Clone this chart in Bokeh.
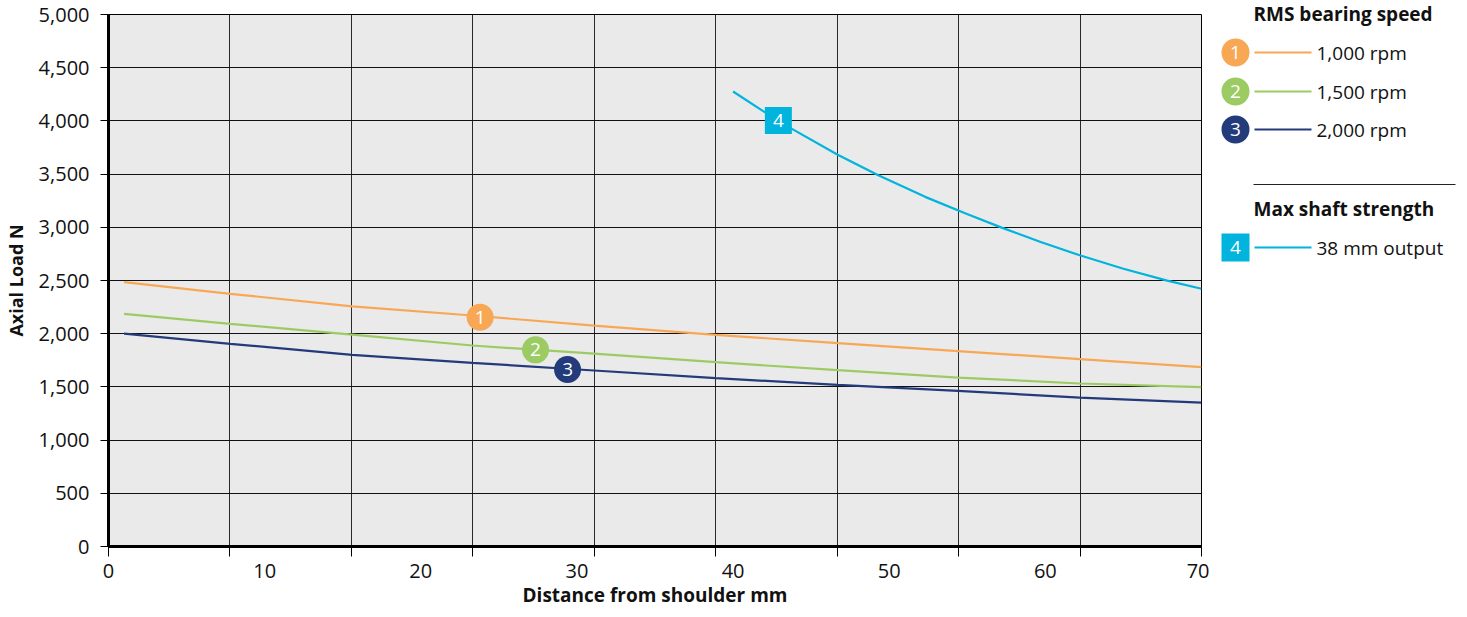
from bokeh.plotting import figure
from bokeh.models import FixedTicker, NumeralTickFormatter, Range1d
from bokeh.layouts import row
from bokeh.embed import file_html
from bokeh.resources import INLINE
from bokeh.core.properties import value

FONT = "Open Sans"

# ---- data ----
x_speed = [1, 7.8, 15.6, 23.3, 31.1, 38.9, 46.7, 54.4, 62.2, 70]
load_1000 = [2484, 2375, 2256, 2171, 2075, 1989, 1911, 1836, 1761, 1685]
load_1500 = [2187, 2093, 1992, 1889, 1812, 1732, 1657, 1588, 1532, 1497]
load_2000 = [2000, 1905, 1801, 1726, 1654, 1582, 1519, 1463, 1400, 1353]

x_shaft = [40, 41.9, 43.8, 46.7, 49.3, 52.3, 54.9, 57.2, 59.7, 62.2, 65.0, 67.8, 70]
load_shaft = [4276, 4094, 3923, 3682, 3490, 3286, 3130, 2997, 2862, 2737, 2611, 2499, 2422]

badge_labels = ["1", "2", "3"]
badge_x = [23.8, 27.35, 29.4]
badge_y = [2155, 1848, 1663]
shaft_badge_label = ["4"]
shaft_badge_x = [42.9]
shaft_badge_y = [4004]

series_names = ["1,000 rpm", "1,500 rpm", "2,000 rpm"]
shaft_name = "38 mm output"
legend_title_1 = "RMS bearing speed"
legend_title_2 = "Max shaft strength"

x_tick_labels = [0, 10, 20, 30, 40, 50, 60, 70]
y_tick_values = list(range(0, 5001, 500))

# ---- styles ----
C_ORANGE = "#F8A755"
C_GREEN = "#9CCB63"
C_NAVY = "#233A7B"
C_CYAN = "#00B4DD"
series_colors = [C_ORANGE, C_GREEN, C_NAVY]
TXT = "#111111"

grid_x = [70 / 9 * k for k in range(1, 9)]
tick_marks_x = [70 / 9 * k for k in range(0, 10)]

H = 612

p = figure(width=1209, height=H, x_range=Range1d(0, 70), y_range=Range1d(0, 5000),
           output_backend="svg", toolbar_location=None,
           min_border_left=108, min_border_right=8, min_border_top=14, min_border_bottom=66,
           background_fill_color="#EAEAEA", border_fill_color="white",
           outline_line_color="black", outline_line_width=1)

p.xgrid.ticker = FixedTicker(ticks=grid_x)
p.xgrid.grid_line_color = "#2a2a2a"
p.xgrid.grid_line_width = 1
p.ygrid.ticker = FixedTicker(ticks=y_tick_values)
p.ygrid.grid_line_color = "#111111"
p.ygrid.grid_line_width = 1

xa = p.xaxis[0]
xa.ticker = FixedTicker(ticks=x_tick_labels, minor_ticks=tick_marks_x)
xa.major_tick_out = 0
xa.major_tick_in = 0
xa.minor_tick_out = 10
xa.minor_tick_in = 0
xa.minor_tick_line_color = "black"
xa.minor_tick_line_width = 1
xa.axis_line_width = 3
xa.axis_line_color = "black"
xa.major_label_standoff = 7
xa.major_label_text_font = FONT
xa.major_label_text_font_size = "20px"
xa.major_label_text_color = TXT
xa.axis_label = "Distance from shoulder mm"
xa.axis_label_text_font = FONT
xa.axis_label_text_font_style = "bold"
xa.axis_label_text_font_size = "19px"
xa.axis_label_standoff = 1
xa.axis_label_text_color = TXT

ya = p.yaxis[0]
ya.ticker = FixedTicker(ticks=y_tick_values)
ya.formatter = NumeralTickFormatter(format="0,0")
ya.major_tick_out = 8
ya.major_tick_in = 0
ya.minor_tick_out = 0
ya.minor_tick_in = 0
ya.major_tick_line_color = "black"
ya.axis_line_width = 3
ya.axis_line_color = "black"
ya.major_label_standoff = 11
ya.major_label_text_font = FONT
ya.major_label_text_font_size = "20px"
ya.major_label_text_color = TXT
ya.axis_label = "Axial Load N"
ya.axis_label_text_font = FONT
ya.axis_label_text_font_style = "bold"
ya.axis_label_text_font_size = "18px"
ya.axis_label_standoff = 8
ya.axis_label_text_color = TXT

for ys, col in zip([load_1000, load_1500, load_2000], series_colors):
    p.line(x_speed, ys, line_color=col, line_width=2.2)
p.line(x_shaft, load_shaft, line_color=C_CYAN, line_width=2.2)

p.scatter(badge_x, badge_y, marker="circle", size=27, fill_color=series_colors, line_color=None)
p.text(badge_x, badge_y, text=badge_labels, text_align="center", text_baseline="middle",
       text_color="white", text_font=value(FONT), text_font_size="19px")
p.scatter(shaft_badge_x, shaft_badge_y, marker="square", size=27, fill_color=C_CYAN, line_color=None)
p.text(shaft_badge_x, shaft_badge_y, text=shaft_badge_label, text_align="center", text_baseline="middle",
       text_color="white", text_font=value(FONT), text_font_size="19px")

# ---- legend panel: data coordinates equal page pixels ----
LW = 256
lg = figure(width=LW, height=H, x_range=Range1d(0, LW), y_range=Range1d(H, 0),
            output_backend="svg", toolbar_location=None, min_border=0,
            x_axis_type=None, y_axis_type=None, outline_line_color=None,
            background_fill_color="white", border_fill_color="white")
lg.grid.visible = False
for fig in (p, lg):
    try:
        fig.frame_align = False
    except Exception:
        pass

item_y = [52, 91, 129]
lg.text([44], [13], text=[legend_title_1], text_baseline="middle", text_font=value(FONT),
        text_font_style="bold", text_font_size="19px", text_color=TXT)
lg.scatter([26] * 3, item_y, marker="circle", size=28, fill_color=series_colors, line_color=None)
lg.text([26] * 3, item_y, text=badge_labels, text_align="center", text_baseline="middle",
        text_color="white", text_font=value(FONT), text_font_size="19px")
lg.segment(x0=[45] * 3, y0=item_y, x1=[102] * 3, y1=item_y, line_color=series_colors, line_width=2)
lg.text([107] * 3, item_y, text=series_names, text_baseline="middle", text_font=value(FONT),
        text_font_size="19px", text_color=TXT)

lg.segment(x0=[44], y0=[184], x1=[246], y1=[184], line_color="#222222", line_width=1)
lg.text([44], [208], text=[legend_title_2], text_baseline="middle", text_font=value(FONT),
        text_font_style="bold", text_font_size="19px", text_color=TXT)
lg.scatter([26], [247], marker="square", size=28, fill_color=C_CYAN, line_color=None)
lg.text([26], [247], text=shaft_badge_label, text_align="center", text_baseline="middle",
        text_color="white", text_font=value(FONT), text_font_size="19px")
lg.segment(x0=[45], y0=[247], x1=[102], y1=[247], line_color=C_CYAN, line_width=2)
lg.text([107], [247], text=[shaft_name], text_baseline="middle", text_font=value(FONT),
        text_font_size="19px", text_color=TXT)

layout = row(p, lg)
open("out.html", "w").write(file_html(layout, INLINE))
